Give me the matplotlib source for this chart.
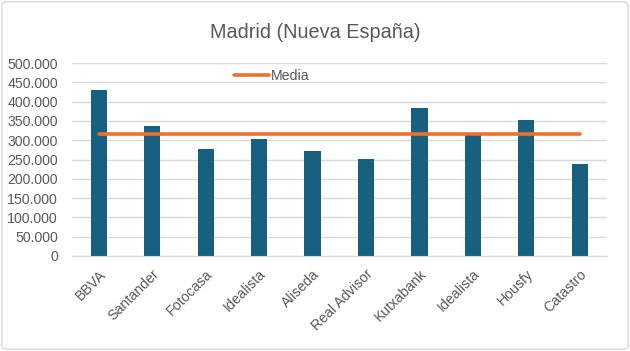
import matplotlib.pyplot as plt
import numpy as np
from matplotlib.patches import FancyBboxPatch
from matplotlib.ticker import FuncFormatter, MultipleLocator

categories = ["BBVA", "Santander", "Fotocasa", "Idealista", "Aliseda",
              "Real Advisor", "Kutxabank", "Idealista", "Housfy", "Catastro"]
values = [431000, 337000, 278000, 304000, 272000,
          252000, 384000, 320000, 353000, 239000]
media = [317000] * len(categories)

BAR = "#17607f"
ORANGE = "#e97132"
GREY = "#595959"
GRID = "#d9d9d9"

plt.rcParams["font.family"] = ["Liberation Sans", "DejaVu Sans"]

fig = plt.figure(figsize=(6.3, 3.51), dpi=100)
ax = fig.add_axes([0.114, 0.271, 0.849, 0.549])

x = np.arange(len(categories))
ax.bar(x, values, width=0.3, color=BAR, zorder=2)
ax.plot(x, media, color=ORANGE, lw=2.6, solid_capstyle="round", zorder=3, label="Media")

ax.set_xlim(-0.5, len(categories) - 0.5)
ax.set_ylim(0, 500000)
ax.yaxis.set_major_locator(MultipleLocator(50000))
ax.yaxis.set_major_formatter(FuncFormatter(lambda v, p: f"{int(v):,}".replace(",", ".")))
ax.grid(axis="y", color=GRID, lw=1, zorder=0)
for s in ["top", "right", "left"]:
    ax.spines[s].set_visible(False)
ax.spines["bottom"].set_color(GRID)
ax.tick_params(axis="both", length=0, labelsize=10.2, labelcolor=GREY)
ax.tick_params(axis="y", pad=10)
ax.set_xticks(x)
ax.set_xticklabels(categories, rotation=45, ha="right", rotation_mode="anchor")
ax.tick_params(axis="x", pad=8)

fig.suptitle("Madrid (Nueva España)", y=0.935, fontsize=14.3, color=GREY)
fig.legend(loc="center left", bbox_to_anchor=(0.371, 0.783), frameon=False,
           fontsize=10.2, labelcolor=GREY, handlelength=2.5, handletextpad=0.1,
           borderaxespad=0, borderpad=0)

fig.patches.append(FancyBboxPatch((0.003, 0.005), 0.994, 0.99, boxstyle="round,pad=0,rounding_size=0.01",
                                  transform=fig.transFigure, fc="none", ec=GRID, lw=1))

fig.savefig("out.png", dpi=100)
